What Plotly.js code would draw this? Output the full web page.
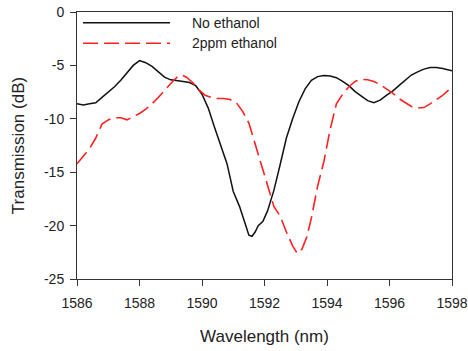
<!DOCTYPE html>
<html>
<head>
<meta charset="utf-8">
<script src="https://cdn.plot.ly/plotly-3.0.1.min.js"></script>
<style>html,body{margin:0;padding:0;background:#fff;}#chart{width:468px;height:351px;}</style>
</head>
<body>
<div id="chart"></div>
<script>
const seriesNames = ["No ethanol", "2ppm ethanol"];

const wlNoEthanol = [1586.0,1586.2,1586.4,1586.6,1586.8,1587.0,1587.2,1587.4,1587.6,1587.8,1588.0,1588.2,1588.4,1588.6,1588.8,1589.0,1589.2,1589.4,1589.6,1589.8,1590.0,1590.2,1590.4,1590.6,1590.8,1591.0,1591.2,1591.4,1591.5,1591.6,1591.7,1591.8,1591.95,1592.1,1592.3,1592.5,1592.7,1592.9,1593.1,1593.3,1593.5,1593.7,1593.9,1594.1,1594.3,1594.5,1594.7,1594.9,1595.1,1595.3,1595.5,1595.7,1595.9,1596.1,1596.3,1596.5,1596.7,1596.9,1597.1,1597.3,1597.5,1597.7,1597.9,1598.0];
const tNoEthanol = [-8.6,-8.7,-8.6,-8.5,-8.0,-7.5,-7.0,-6.4,-5.7,-5.0,-4.55,-4.75,-5.1,-5.6,-6.1,-6.35,-6.4,-6.5,-6.6,-6.9,-7.7,-9.0,-10.8,-12.6,-14.2,-16.8,-18.2,-20.0,-20.9,-21.0,-20.6,-20.0,-19.6,-18.6,-16.7,-14.3,-11.8,-10.0,-8.4,-7.2,-6.4,-6.05,-5.95,-6.0,-6.15,-6.5,-6.9,-7.45,-7.9,-8.3,-8.5,-8.25,-7.8,-7.4,-6.9,-6.4,-5.9,-5.6,-5.35,-5.2,-5.2,-5.3,-5.45,-5.5];

const wlEthanol = [1586.0,1586.2,1586.4,1586.6,1586.8,1587.0,1587.2,1587.4,1587.6,1587.8,1588.0,1588.2,1588.4,1588.6,1588.8,1589.0,1589.2,1589.35,1589.5,1589.7,1589.9,1590.1,1590.3,1590.5,1590.7,1590.9,1591.1,1591.3,1591.5,1591.7,1591.9,1592.1,1592.3,1592.5,1592.7,1592.9,1593.05,1593.2,1593.35,1593.5,1593.7,1593.9,1594.1,1594.3,1594.5,1594.7,1594.9,1595.1,1595.3,1595.5,1595.7,1595.9,1596.1,1596.3,1596.5,1596.7,1596.9,1597.1,1597.3,1597.5,1597.7,1597.9,1598.0];
const tEthanol = [-14.2,-13.5,-12.8,-11.8,-10.5,-10.1,-9.9,-9.9,-10.1,-9.8,-9.5,-9.1,-8.6,-8.0,-7.3,-6.7,-6.1,-5.9,-6.1,-6.6,-7.3,-7.8,-8.0,-8.1,-8.1,-8.2,-8.5,-9.3,-10.4,-12.4,-14.2,-16.3,-18.2,-19.1,-20.6,-21.9,-22.6,-22.2,-21.1,-19.3,-16.3,-14.0,-11.0,-8.6,-7.7,-7.0,-6.5,-6.3,-6.35,-6.5,-6.8,-7.2,-7.6,-8.1,-8.5,-8.85,-9.0,-8.95,-8.6,-8.2,-7.8,-7.3,-7.0];

const xTicks = [1586,1588,1590,1592,1594,1596,1598];
const yTicks = [0,-5,-10,-15,-20,-25];
const xTitle = "Wavelength (nm)";
const yTitle = "Transmission (dB)";

const blackLine = {color:'#111111', width:1.5};
const redLine = {color:'#ff2020', width:1.6, dash:'15px,6px'};

const traces = [
  {x: wlNoEthanol, y: tNoEthanol, mode:'lines', name: seriesNames[0], line: blackLine, showlegend:false},
  {x: wlEthanol, y: tEthanol, mode:'lines', name: seriesNames[1], line: redLine, showlegend:false}
];

const axisCommon = {
  showline:true, linecolor:'#333', linewidth:1, mirror:true,
  ticks:'outside', ticklen:6, tickwidth:1, tickcolor:'#333',
  showgrid:false, zeroline:false,
  tickfont:{family:'Liberation Sans, Arial, sans-serif', size:14, color:'#222'}
};

const layout = {
  width:468, height:351,
  margin:{l:77, r:16, t:12, b:72},
  paper_bgcolor:'#fff', plot_bgcolor:'#fff',
  showlegend:false,
  xaxis: Object.assign({}, axisCommon, {
    range:[1586,1598], tickvals:xTicks, ticktext:xTicks.map(String),
    ticklabelstandoff:5,
    title:{text:xTitle, font:{family:'Liberation Sans, Arial, sans-serif', size:17, color:'#222'}, standoff:20}
  }),
  yaxis: Object.assign({}, axisCommon, {
    range:[-25,0], tickvals:yTicks, ticktext:yTicks.map(String),
    ticklabelstandoff:3,
    title:{text:yTitle, font:{family:'Liberation Sans, Arial, sans-serif', size:17, color:'#222'}, standoff:15}
  }),
  shapes:[
    {type:'line', xref:'paper', yref:'paper', x0:0.016, x1:0.248, y0:0.96, y1:0.96, line:blackLine},
    {type:'line', xref:'paper', yref:'paper', x0:0.016, x1:0.248, y0:0.883, y1:0.883, line:redLine}
  ],
  annotations:[
    {xref:'paper', yref:'paper', x:0.301, y:0.96, xanchor:'left', yanchor:'middle', showarrow:false, text:seriesNames[0], font:{family:'Liberation Sans, Arial, sans-serif', size:14, color:'#222'}},
    {xref:'paper', yref:'paper', x:0.301, y:0.883, xanchor:'left', yanchor:'middle', showarrow:false, text:seriesNames[1], font:{family:'Liberation Sans, Arial, sans-serif', size:14, color:'#222'}}
  ]
};

Plotly.newPlot('chart', traces, layout, {displayModeBar:false, staticPlot:true});
</script>
</body>
</html>
